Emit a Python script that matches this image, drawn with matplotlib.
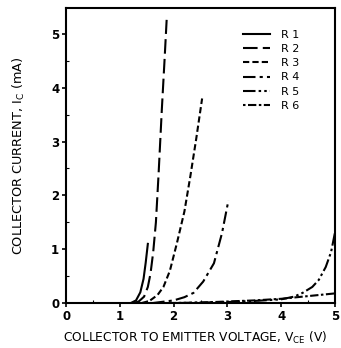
import matplotlib
matplotlib.use("Agg")
import matplotlib.pyplot as plt
from matplotlib.ticker import MultipleLocator

labels = ["R 1", "R 2", "R 3", "R 4", "R 5", "R 6"]
r1_x = [1.2, 1.3, 1.38, 1.44, 1.48, 1.52]
r1_y = [0.0, 0.05, 0.2, 0.45, 0.75, 1.1]
r2_x = [1.25, 1.35, 1.45, 1.52, 1.57, 1.62, 1.67, 1.72, 1.78, 1.83, 1.87]
r2_y = [0.0, 0.03, 0.12, 0.3, 0.55, 0.95, 1.5, 2.4, 3.59, 4.5, 5.26]
r3_x = [1.4, 1.55, 1.7, 1.81, 1.93, 2.06, 2.2, 2.31, 2.42, 2.53]
r3_y = [0.0, 0.04, 0.15, 0.30, 0.6, 1.11, 1.7, 2.35, 3.05, 3.80]
r4_x = [1.6, 2.0, 2.2, 2.37, 2.55, 2.75, 2.9, 3.02]
r4_y = [0.0, 0.05, 0.11, 0.19, 0.4, 0.74, 1.3, 1.91]
r5_x = [2.0, 3.0, 3.5, 4.0, 4.24, 4.4, 4.58, 4.7, 4.83, 4.93, 5.0]
r5_y = [0.0, 0.02, 0.04, 0.07, 0.12, 0.19, 0.30, 0.43, 0.67, 0.95, 1.3]
r6_x = [1.8, 2.5, 3.0, 3.5, 4.0, 4.5, 5.0]
r6_y = [0.0, 0.01, 0.03, 0.05, 0.08, 0.13, 0.18]

xs = [r1_x, r2_x, r3_x, r4_x, r5_x, r6_x]
ys = [r1_y, r2_y, r3_y, r4_y, r5_y, r6_y]
styles = ["-", (0, (7, 2.5)), (0, (3, 1.5)), (0, (6, 2, 1.5, 2)),
          (0, (6, 1.5, 1.2, 1.5, 1.2, 1.5)), (0, (1.2, 1.2, 4, 1.2))]

plt.rcParams['font.family'] = ['DejaVu Sans']
fig = plt.figure(figsize=(3.41, 3.48), dpi=100)
ax = fig.add_axes([0.194, 0.129, 0.788, 0.848])

for x, y, ls, lab in zip(xs, ys, styles, labels):
    ax.plot(x, y, color="black", linestyle=ls, linewidth=1.5, label=lab)

ax.set_xlim(0, 5)
ax.set_ylim(0, 5.48)
ax.xaxis.set_major_locator(MultipleLocator(1))
ax.yaxis.set_major_locator(MultipleLocator(1))
ax.xaxis.set_minor_locator(MultipleLocator(0.5))
ax.yaxis.set_minor_locator(MultipleLocator(0.5))
ax.tick_params(which="major", direction="out", length=3, width=1.2,
               labelsize=8.5, pad=2)
ax.tick_params(which="minor", direction="in", length=2, width=0.8)
for lbl in ax.get_xticklabels() + ax.get_yticklabels():
    lbl.set_fontweight("bold")
for s in ax.spines.values():
    s.set_linewidth(1.5)

xl = ax.set_xlabel("COLLECTOR TO EMITTER VOLTAGE, V$_{\\mathregular{CE}}$ (V)",
                   fontsize=8.8, labelpad=5)
xl.set_x(0.48)
ax.set_ylabel("COLLECTOR CURRENT, I$_{\\mathregular{C}}$ (mA)",
              fontsize=9.3, labelpad=17)

leg = ax.legend(loc="upper right", bbox_to_anchor=(0.905, 0.96), frameon=False,
                fontsize=8, handlelength=2.4, labelspacing=0.38,
                handletextpad=1.0)

fig.savefig("out.png", dpi=100)
